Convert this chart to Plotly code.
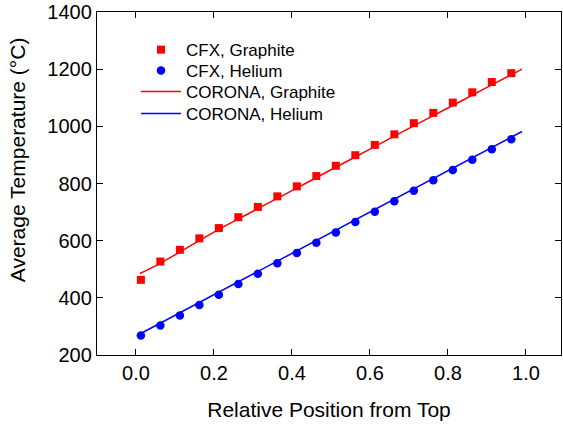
import plotly.graph_objects as go

# Data
cfx_x = [0.0125, 0.0625, 0.1125, 0.1625, 0.2125, 0.2625, 0.3125, 0.3625, 0.4125, 0.4625,
         0.5125, 0.5625, 0.6125, 0.6625, 0.7125, 0.7625, 0.8125, 0.8625, 0.9125, 0.9625]
cfx_graphite = [463, 527, 568, 608, 644, 682, 718, 755, 790, 826,
                862, 899, 935, 972, 1011, 1047, 1083, 1119, 1155, 1186]
cfx_helium = [268, 303, 338, 375, 411, 448, 484, 521, 557, 593,
              629, 665, 701, 738, 775, 811, 847, 883, 920, 955]

corona_x = [0.01, 0.05, 0.1, 0.2, 0.3, 0.4, 0.5, 0.6, 0.7, 0.8, 0.9, 0.99]
corona_graphite = [485, 512, 550, 630, 703, 775, 848, 920, 993, 1064, 1136, 1200]
corona_helium_x = [0.005, 0.99]
corona_helium = [270, 982]

x_ticks = [0.0, 0.2, 0.4, 0.6, 0.8, 1.0]
x_tick_labels = ["0.0", "0.2", "0.4", "0.6", "0.8", "1.0"]
y_ticks = [200, 400, 600, 800, 1000, 1200, 1400]

FONT = "Arial, Liberation Sans, sans-serif"

fig = go.Figure()
fig.add_trace(go.Scatter(x=cfx_x, y=cfx_graphite, mode="markers", name="CFX, Graphite",
                         marker=dict(symbol="square", size=8, color="#ff0000"), legend="legend"))
fig.add_trace(go.Scatter(x=cfx_x, y=cfx_helium, mode="markers", name="CFX, Helium",
                         marker=dict(symbol="circle", size=8.5, color="#0000ff"), legend="legend2"))
fig.add_trace(go.Scatter(x=corona_x, y=corona_graphite, mode="lines", name="CORONA, Graphite",
                         line=dict(color="#ff0000", width=1.5, shape="spline"), legend="legend3"))
fig.add_trace(go.Scatter(x=corona_helium_x, y=corona_helium, mode="lines", name="CORONA, Helium",
                         line=dict(color="#0000ff", width=1.5), legend="legend4"))

axis_common = dict(showline=True, linecolor="black", linewidth=1.3, mirror="ticks",
                   ticks="inside", ticklen=6, tickwidth=1.2, tickcolor="black",
                   showgrid=False, zeroline=False, automargin=False, ticklabeloverflow="allow",
                   tickfont=dict(family=FONT, size=20, color="black"),
                   minor=dict(ticks="inside", ticklen=3, tickwidth=1, tickcolor="black", nticks=2))

fig.update_xaxes(range=[-0.1, 1.09], tickvals=x_ticks, ticktext=x_tick_labels,
                 title=dict(text="Relative Position from Top", font=dict(family=FONT, size=21, color="black"),
                            standoff=19),
                 **axis_common)
fig.update_yaxes(range=[200, 1400], tickvals=y_ticks, **axis_common)

fig.add_annotation(text="Average Temperature (°C)", textangle=-90, xref="paper", yref="paper",
                   x=-0.172, y=0.5685, showarrow=False, xanchor="center", yanchor="middle",
                   font=dict(family=FONT, size=21, color="black"))

legend_common = dict(x=0.084, xanchor="left", yanchor="middle", bgcolor="rgba(0,0,0,0)",
                     font=dict(family=FONT, size=17, color="black"), itemwidth=40)

fig.update_layout(
    width=563, height=425,
    margin=dict(l=97, r=2, t=12, b=70),
    plot_bgcolor="white", paper_bgcolor="white",
    legend=dict(y=0.889, **legend_common),
    legend2=dict(y=0.828, **legend_common),
    legend3=dict(y=0.767, **legend_common),
    legend4=dict(y=0.703, **legend_common),
    showlegend=True,
)

fig.write_html("out.html", config={"displayModeBar": False},
               post_script="document.body.style.margin='0';")
